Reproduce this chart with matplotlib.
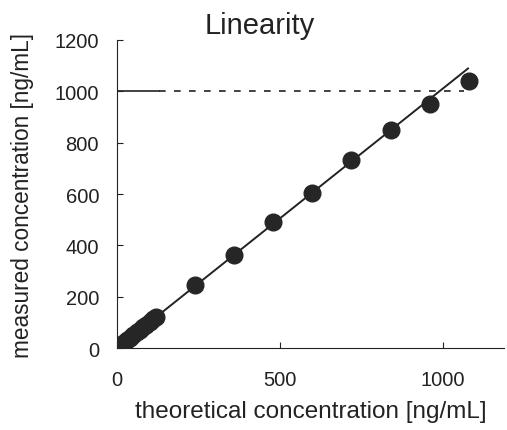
import matplotlib
matplotlib.use('Agg')
import matplotlib.pyplot as plt
import numpy as np

plt.rcParams['font.family'] = ['Liberation Sans', 'DejaVu Sans']

# theoretical vs measured concentration [ng/mL]
theoretical = [1, 2, 4, 7.5, 10, 15, 20, 25, 30, 40, 50, 60, 70, 80, 90, 100, 110, 120,
               240, 360, 480, 600, 720, 840, 960, 1080]
measured = [1, 2, 4, 7.6, 10, 15, 20, 25, 31, 41, 51, 61, 71, 81, 91, 102, 112, 122,
            246, 363, 491, 604, 732, 850, 951, 1041]
fit_x = [0, 1078]
fit_slope = 1.01
limit = 1000

fig = plt.figure(figsize=(5.07, 4.31), dpi=100)
ax = fig.add_axes([0.231, 0.190, 0.764, 0.715])

ax.plot(fit_x, [v * fit_slope for v in fit_x], color='#222222', lw=1.4, zorder=2)
ax.plot(theoretical, measured, 'o', color='#262626', ms=12, zorder=3)
ax.plot([0, 130], [limit, limit], color='#222222', lw=1.2)
ax.plot([130, 1065], [limit, limit], color='#222222', lw=1.2, ls=(0, (4, 5)))

ax.set_xlim(0, 1190)
ax.set_ylim(0, 1200)
ax.set_xticks([0, 500, 1000])
ax.set_yticks(np.arange(0, 1201, 200))
ax.tick_params(direction='in', length=4, labelsize=14.5, colors='#222222')
ax.tick_params(axis='x', pad=16)
ax.tick_params(axis='y', pad=13)
for s in ['top', 'right']:
    ax.spines[s].set_visible(False)
for s in ['left', 'bottom']:
    ax.spines[s].set_color('#222222')

fig.text(260 / 507, 1 - 26 / 431, 'Linearity', fontsize=21, color='#222222',
         ha='center', va='center')
ax.set_xlabel('theoretical concentration [ng/mL]', fontsize=17.5, color='#222222')
ax.set_ylabel('measured concentration [ng/mL]', fontsize=16.3, color='#222222')
ax.xaxis.set_label_coords(0.5, -0.17)
ax.yaxis.set_label_coords(-0.215, 0.5)

fig.savefig('out.png', dpi=100)
